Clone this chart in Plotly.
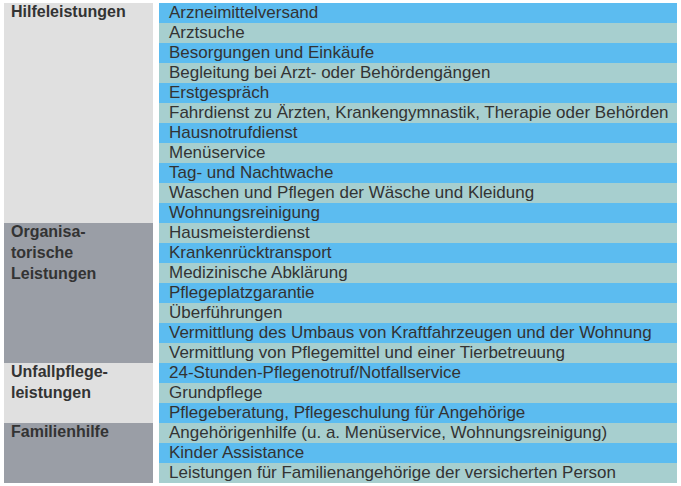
import plotly.graph_objects as go

# groups (left column) and how many rows each spans
groups = ['Hilfeleistungen', 'Organisa-<br>torische<br>Leistungen', 'Unfallpflege-<br>leistungen', 'Familienhilfe']
group_rows = [11, 7, 3, 3]
group_colors = ['#e0e0e0', '#9a9ea6', '#e0e0e0', '#9a9ea6']

# services (right column)
services = [
    'Arzneimittelversand',
    'Arztsuche',
    'Besorgungen und Einkäufe',
    'Begleitung bei Arzt- oder Behördengängen',
    'Erstgespräch',
    'Fahrdienst zu Ärzten, Krankengymnastik, Therapie oder Behörden',
    'Hausnotrufdienst',
    'Menüservice',
    'Tag- und Nachtwache',
    'Waschen und Pflegen der Wäsche und Kleidung',
    'Wohnungsreinigung',
    'Hausmeisterdienst',
    'Krankenrücktransport',
    'Medizinische Abklärung',
    'Pflegeplatzgarantie',
    'Überführungen',
    'Vermittlung des Umbaus von Kraftfahrzeugen und der Wohnung',
    'Vermittlung von Pflegemittel und einer Tierbetreuung',
    '24-Stunden-Pflegenotruf/Notfallservice',
    'Grundpflege',
    'Pflegeberatung, Pflegeschulung für Angehörige',
    'Angehörigenhilfe (u. a. Menüservice, Wohnungsreinigung)',
    'Kinder Assistance',
    'Leistungen für Familienangehörige der versicherten Person',
]

BLUE = '#5cbcf0'
TEAL = '#a7cfcf'
TXT = '#333333'
FONT = 'Liberation Sans, Arial, sans-serif'

LEFT_X0, LEFT_W = 4, 149
RIGHT_X0, RIGHT_W = 159, 518

fig = go.Figure()

# left column blocks
starts = []
s = 0
for n in group_rows:
    starts.append(s)
    s += n
fig.add_trace(go.Bar(
    orientation='h',
    y=[st + n / 2 for st, n in zip(starts, group_rows)],
    width=group_rows,
    x=[LEFT_W] * len(groups),
    base=[LEFT_X0] * len(groups),
    marker=dict(color=group_colors, line=dict(width=0)),
    hoverinfo='skip',
    showlegend=False,
))
fig.add_trace(go.Scatter(
    x=[LEFT_X0 + 7] * len(groups),
    y=[st + 0.12 for st in starts],
    text=['<b>' + g.replace('<br>', '</b><br><b>') + '</b>' for g in groups],
    mode='text',
    textposition='bottom right',
    textfont=dict(family=FONT, size=16, color=TXT),
    hoverinfo='skip',
    showlegend=False,
))

# right column rows
rows = list(range(len(services)))
fig.add_trace(go.Bar(
    orientation='h',
    y=[r + 0.5 for r in rows],
    width=[1] * len(services),
    x=[RIGHT_W] * len(services),
    base=[RIGHT_X0] * len(services),
    marker=dict(color=[BLUE if r % 2 == 0 else TEAL for r in rows], line=dict(width=0)),
    hoverinfo='skip',
    showlegend=False,
))
fig.add_trace(go.Scatter(
    x=[RIGHT_X0 + 10] * len(services),
    y=[r + 0.52 for r in rows],
    text=services,
    mode='text',
    textposition='middle right',
    textfont=dict(family=FONT, size=17, color=TXT),
    hoverinfo='skip',
    showlegend=False,
))

fig.update_layout(
    width=681,
    height=486,
    margin=dict(l=0, r=0, t=0, b=0),
    paper_bgcolor='white',
    plot_bgcolor='white',
    barmode='overlay',
    bargap=0,
    xaxis=dict(range=[0, 681], visible=False, fixedrange=True),
    yaxis=dict(range=[24.15, -0.15], visible=False, fixedrange=True),
    hovermode=False,
)

fig.write_html('out.html', config={'displayModeBar': False},
               post_script="document.body.style.margin='0';document.body.style.overflow='hidden';")
